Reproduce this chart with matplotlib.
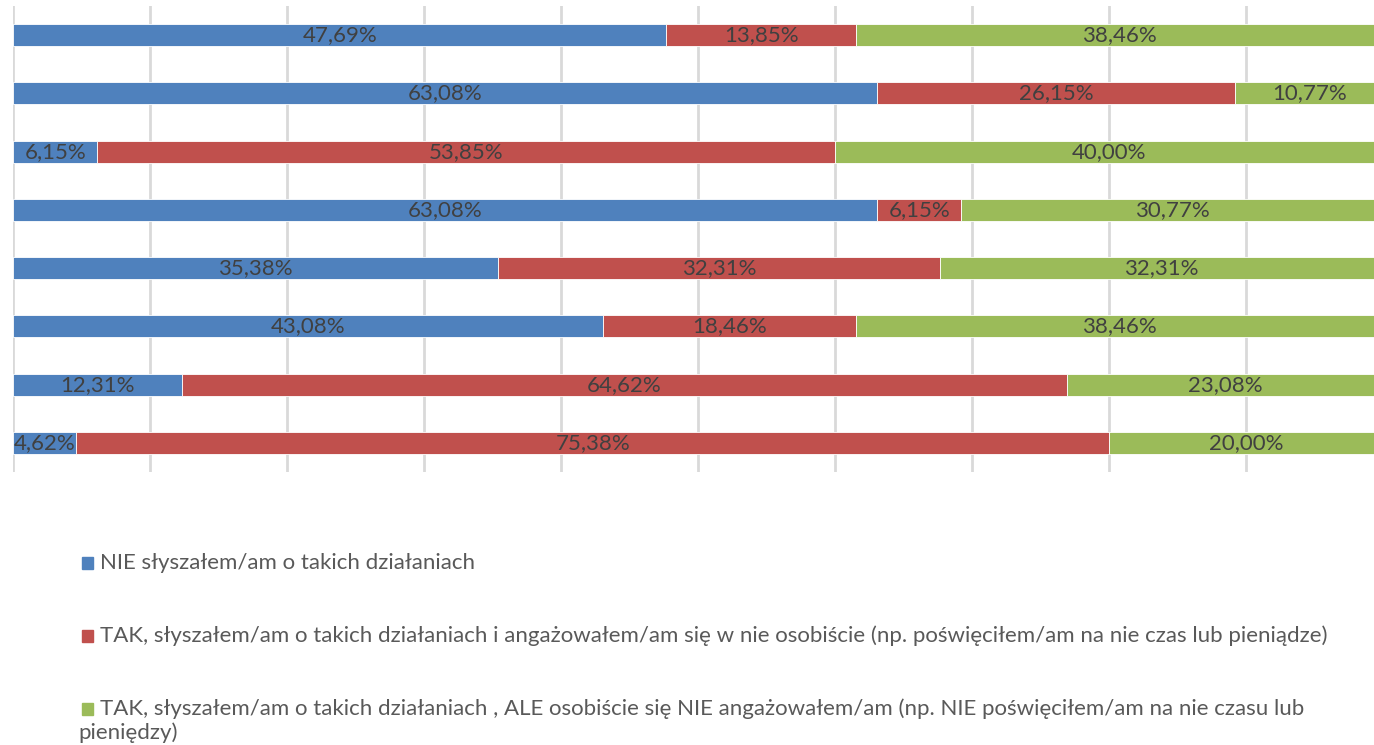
import matplotlib
matplotlib.use('Agg')
import matplotlib.pyplot as plt
from matplotlib.patches import Rectangle

plt.rcParams['font.family'] = ['Lato', 'DejaVu Sans']

# rows top to bottom (category labels are cut off in the source)
rows = list(range(8))
nie = [47.69, 63.08, 6.15, 63.08, 35.38, 43.08, 12.31, 4.62]
tak_osobiscie = [13.85, 26.15, 53.85, 6.15, 32.31, 18.46, 64.62, 75.38]
tak_nie_angaz = [38.46, 10.77, 40.00, 30.77, 32.31, 38.46, 23.08, 20.00]

series_names = [
    "NIE słyszałem/am o takich działaniach",
    "TAK, słyszałem/am o takich działaniach i angażowałem/am się w nie osobiście (np. poświęciłem/am na nie czas lub pieniądze)",
    "TAK, słyszałem/am o takich działaniach , ALE osobiście się NIE angażowałem/am (np. NIE poświęciłem/am na nie czasu lub",
]
series_wrap = "pieniędzy)"
series_colors = ['#4F81BD', '#C0504D', '#9BBB59']

W, H = 1374, 745
fig = plt.figure(figsize=(W / 100, H / 100), dpi=100)
# plot area is wider than the picture (right side cropped in the source)
ax = fig.add_axes([13 / W, (H - 472) / H, 1370 / W, 466 / H])

left = [0.0] * len(rows)
for vals, col in zip([nie, tak_osobiscie, tak_nie_angaz], series_colors):
    bars = ax.barh(rows, vals, left=left, height=0.38, color=col,
                   edgecolor='white', linewidth=0.6, zorder=3)
    labels = [f"{v:.2f}%".replace('.', ',') for v in vals]
    ax.bar_label(bars, labels=labels, label_type='center', fontsize=16,
                 color='#404040', zorder=4)
    left = [a + b for a, b in zip(left, vals)]

ax.set_xlim(0, 100)
ax.set_ylim(7.5, -0.5)
ax.set_xticks(range(0, 101, 10))
ax.set_yticks([])
ax.tick_params(axis='x', length=0, labelbottom=False)
ax.grid(axis='x', color='#D9D9D9', linewidth=2, zorder=0)
for s in ax.spines.values():
    s.set_visible(False)

# legend, one entry per row
leg_y = [563, 636, 709]
for name, col, y in zip(series_names, series_colors, leg_y):
    fig.patches.append(Rectangle((82 / W, (H - y - 6) / H), 11 / W, 12 / H,
                                 transform=fig.transFigure, color=col))
    fig.text(100 / W, (H - y) / H, name, fontsize=16, color='#595959',
             va='center', ha='left')
fig.text(78 / W, (H - leg_y[2] - 24) / H, series_wrap, fontsize=16,
         color='#595959', va='center', ha='left')

fig.savefig('out.png', dpi=100)
